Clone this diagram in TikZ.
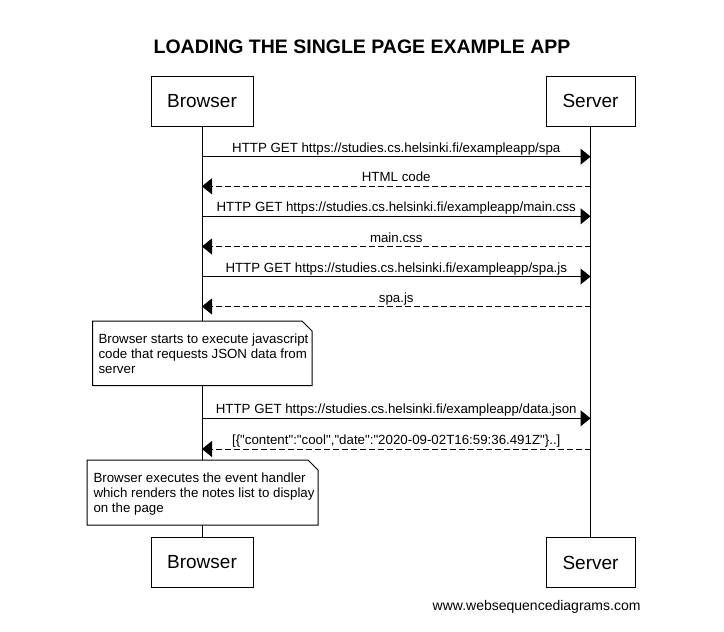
\documentclass[tikz,border=0pt]{standalone}
\usepackage{fontspec}
\setmainfont{Liberation Sans}[Ligatures=TeXOff]
\usetikzlibrary{arrows.meta}
\begin{document}
\begin{tikzpicture}[x=1pt,y=-1pt,line width=1pt,
  actorbox/.style={draw, fill=white, inner sep=0pt, minimum height=50pt,
    font=\fontsize{19}{22}\selectfont},
  lifeline/.style={draw, line width=1pt},
  msgtext/.style={font=\fontsize{13.3}{15}\selectfont, inner sep=0pt, anchor=base, yshift=4.5pt},
  req/.style={-{Triangle[length=10pt,width=16pt]}},
  resp/.style={-{Triangle[length=10pt,width=16pt]}, dash pattern=on 5.5pt off 3.5pt},
  notebox/.style={draw, fill=white},
  notetext/.style={font=\fontsize{13.3}{15}\selectfont, inner sep=0pt, anchor=base west},
]
\useasboundingbox (0,0) rectangle (724,632);

% title
\node[font=\fontsize{19.5}{23}\selectfont\bfseries, anchor=base, inner sep=0pt]
  (title) at (362,53) {LOADING THE SINGLE PAGE EXAMPLE APP};

% participants
\node[actorbox, minimum width=102pt] (bt) at (202,101) {Browser};
\node[actorbox, minimum width=89pt]  (st) at (590.5,101) {Server};
\node[actorbox, minimum width=102pt] (bb) at (202,562.5) {Browser};
\node[actorbox, minimum width=89pt]  (sb) at (590.5,562.5) {Server};

% lifelines
\draw[lifeline] (bt.south) -- (bb.north);
\draw[lifeline] (st.south) -- (sb.north);

% message anchor points on the lifelines
\foreach \i/\y in {1/156.7,2/186.3,3/216.3,4/246.5,5/276.5,6/306.5,7/418.3,8/449} {
  \coordinate (b\i) at (202,\y);
  \coordinate (s\i) at (590.5,\y);
}

% messages
\draw[req]  (b1) -- (s1) node[msgtext, midway] {HTTP GET https://studies.cs.helsinki.fi/exampleapp/spa};
\draw[resp] (s2) -- (b2) node[msgtext, midway] {HTML code};
\draw[req]  (b3) -- (s3) node[msgtext, midway] {HTTP GET https://studies.cs.helsinki.fi/exampleapp/main.css};
\draw[resp] (s4) -- (b4) node[msgtext, midway] {main.css};
\draw[req]  (b5) -- (s5) node[msgtext, midway] {HTTP GET https://studies.cs.helsinki.fi/exampleapp/spa.js};
\draw[resp] (s6) -- (b6) node[msgtext, midway] {spa.js};
\draw[req]  (b7) -- (s7) node[msgtext, midway] {HTTP GET https://studies.cs.helsinki.fi/exampleapp/data.json};
\draw[resp] (s8) -- (b8) node[msgtext, midway] {[\{"content":"cool","date":"2020-09-02T16:59:36.491Z"\}..]};

% note: javascript execution
\draw[notebox] (92.7,321) -- (302,321) -- (312,331) -- (312,385.7) -- (92.7,385.7) -- cycle;
\node[notetext] (n1a) at (98,343) {Browser starts to execute javascript};
\node[notetext] (n1b) at (98,358) {code that requests JSON data from};
\node[notetext] (n1c) at (98,373) {server};

% note: event handler
\draw[notebox] (87,460) -- (308,460) -- (318,470) -- (318,525) -- (87,525) -- cycle;
\node[notetext] (n2a) at (93,482) {Browser executes the event handler};
\node[notetext] (n2b) at (93,497) {which renders the notes list to display};
\node[notetext] (n2c) at (93,512) {on the page};

% footer
\node[font=\fontsize{14}{16}\selectfont, anchor=base east, inner sep=0pt]
  (footer) at (641,610) {www.websequencediagrams.com};
\end{tikzpicture}
\end{document}
